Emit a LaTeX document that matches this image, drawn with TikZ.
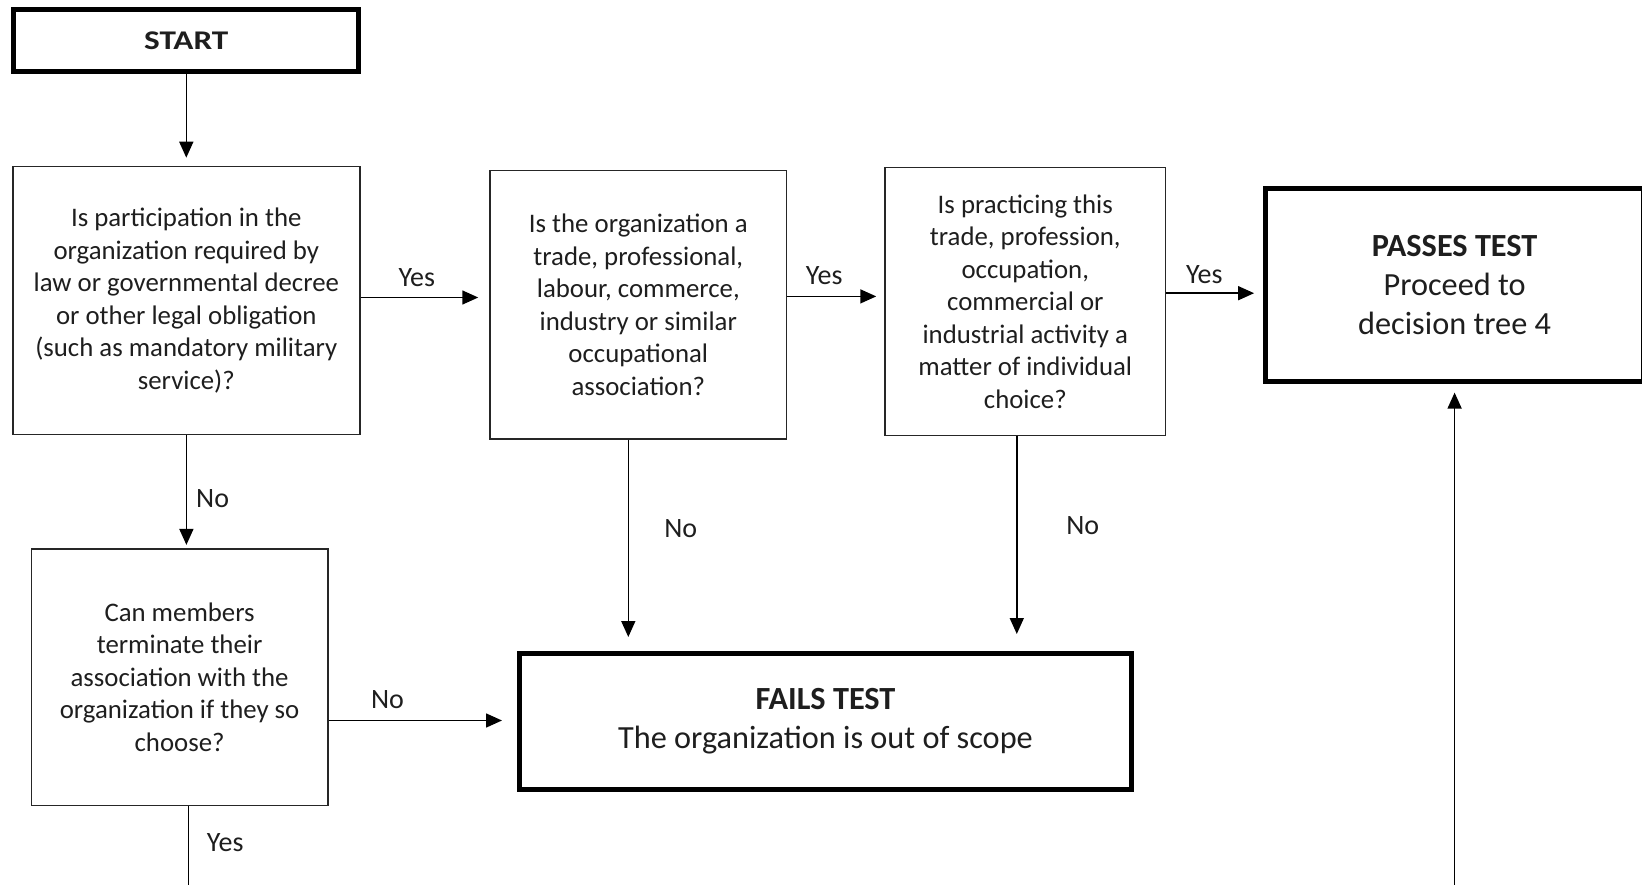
\documentclass[tikz,border=0pt]{standalone}
\usepackage{fontspec}
\setmainfont{Carlito}
\usetikzlibrary{arrows.meta}
\definecolor{txt}{RGB}{30,30,30}
\tikzset{
  qbox/.style={draw=black!85, line width=1.6pt, rectangle, inner sep=0pt, align=center, text=txt,
    font=\fontsize{26.8}{32.5}\selectfont},
  tbox/.style={draw=black, line width=5pt, rectangle, inner sep=0pt, align=center, text=txt},
  arr/.style={draw=black, line width=1.6pt, -{Triangle[length=16pt,width=14pt]}},
  plain/.style={draw=black, line width=1.6pt},
  lab/.style={text=txt, font=\fontsize{28}{32}\selectfont, inner sep=0pt}
}
\begin{document}
\begin{tikzpicture}[x=1pt,y=-1pt]
\useasboundingbox (0,0) rectangle (1642,885);
\clip (0,0) rectangle (1642,885);
\node[tbox, minimum width=345pt, minimum height=62pt, font=\fontsize{27}{32}\selectfont\bfseries] (start) at (186.3,41) {\scalebox{1.23}[1]{START}};
\node[qbox, minimum width=347pt, minimum height=268pt] (q1) at (186.3,300.5)
  {Is participation in the\\organization required by\\law or governmental decree\\or other legal obligation\\(such as mandatory military\\service)?};
\node[qbox, minimum width=296.5pt, minimum height=268pt] (q2) at (638.3,304.7)
  {Is the organization a\\trade, professional,\\labour, commerce,\\industry or similar\\occupational\\association?};
\node[qbox, minimum width=280.5pt, minimum height=268pt] (q3) at (1025.3,301.5)
  {Is practicing this\\trade, profession,\\occupation,\\commercial or\\industrial activity a\\matter of individual\\choice?};
\node[tbox, minimum width=378pt, minimum height=193pt, font=\fontsize{32.3}{39.3}\selectfont] (pass) at (1454.6,285)
  {\textbf{PASSES TEST}\\Proceed to\\decision tree 4};
\node[tbox, minimum width=612pt, minimum height=136pt, font=\fontsize{32.3}{38.7}\selectfont] (fail) at (825.5,721.5)
  {\textbf{FAILS TEST}\\The organization is out of scope};
\node[qbox, minimum width=296.4pt, minimum height=256.6pt] (q4) at (179.6,677)
  {Can members\\terminate their\\association with the\\organization if they so\\choose?};
\coordinate (bot1) at (188.5,895);
\coordinate (bot2) at (1454.6,895);

\draw[arr, shorten >=8pt] (start.south) -- (q1.north);
\draw[arr, shorten >=11pt] ([yshift=3pt]q1.east) -- ([yshift=3pt]q1.east -| q2.west)
  node[lab] at (416.8,277.5) {Yes};
\draw[arr, shorten >=8pt] ([yshift=8.3pt]q2.east) -- ([yshift=8.3pt]q2.east -| q3.west)
  node[lab] at (824.2,275.4) {Yes};
\draw[arr, shorten >=9pt] ([yshift=8.3pt]q3.east) -- ([yshift=8.3pt]q3.east -| pass.west)
  node[lab] at (1204.3,274.4) {Yes};
\draw[arr, shorten >=3pt] ([xshift=6.8pt]q1.south -| q4.north) -- ([xshift=6.8pt]q4.north)
  node[lab] at (212.6,498.5) {No};
\draw[arr, shorten >=14pt] ([xshift=-10pt]q2.south) -- ([xshift=-10pt]q2.south |- fail.north)
  node[lab] at (680.7,528.8) {No};
\draw[arr, shorten >=17pt] ([xshift=-8.5pt]q3.south) -- ([xshift=-8.5pt]q3.south |- fail.north)
  node[lab] at (1082.8,525.7) {No};
\draw[arr, shorten >=15pt] ([yshift=-43.5pt]q4.east) -- ([yshift=-43.5pt]q4.east -| fail.west)
  node[lab] at (387.5,699.5) {No};
\draw[plain] ([xshift=8.9pt]q4.south) -- (bot1)
  node[lab] at (225.2,843) {Yes};
\draw[arr, shorten >=8.6pt] (bot2) -- (pass.south);
\end{tikzpicture}
\end{document}
